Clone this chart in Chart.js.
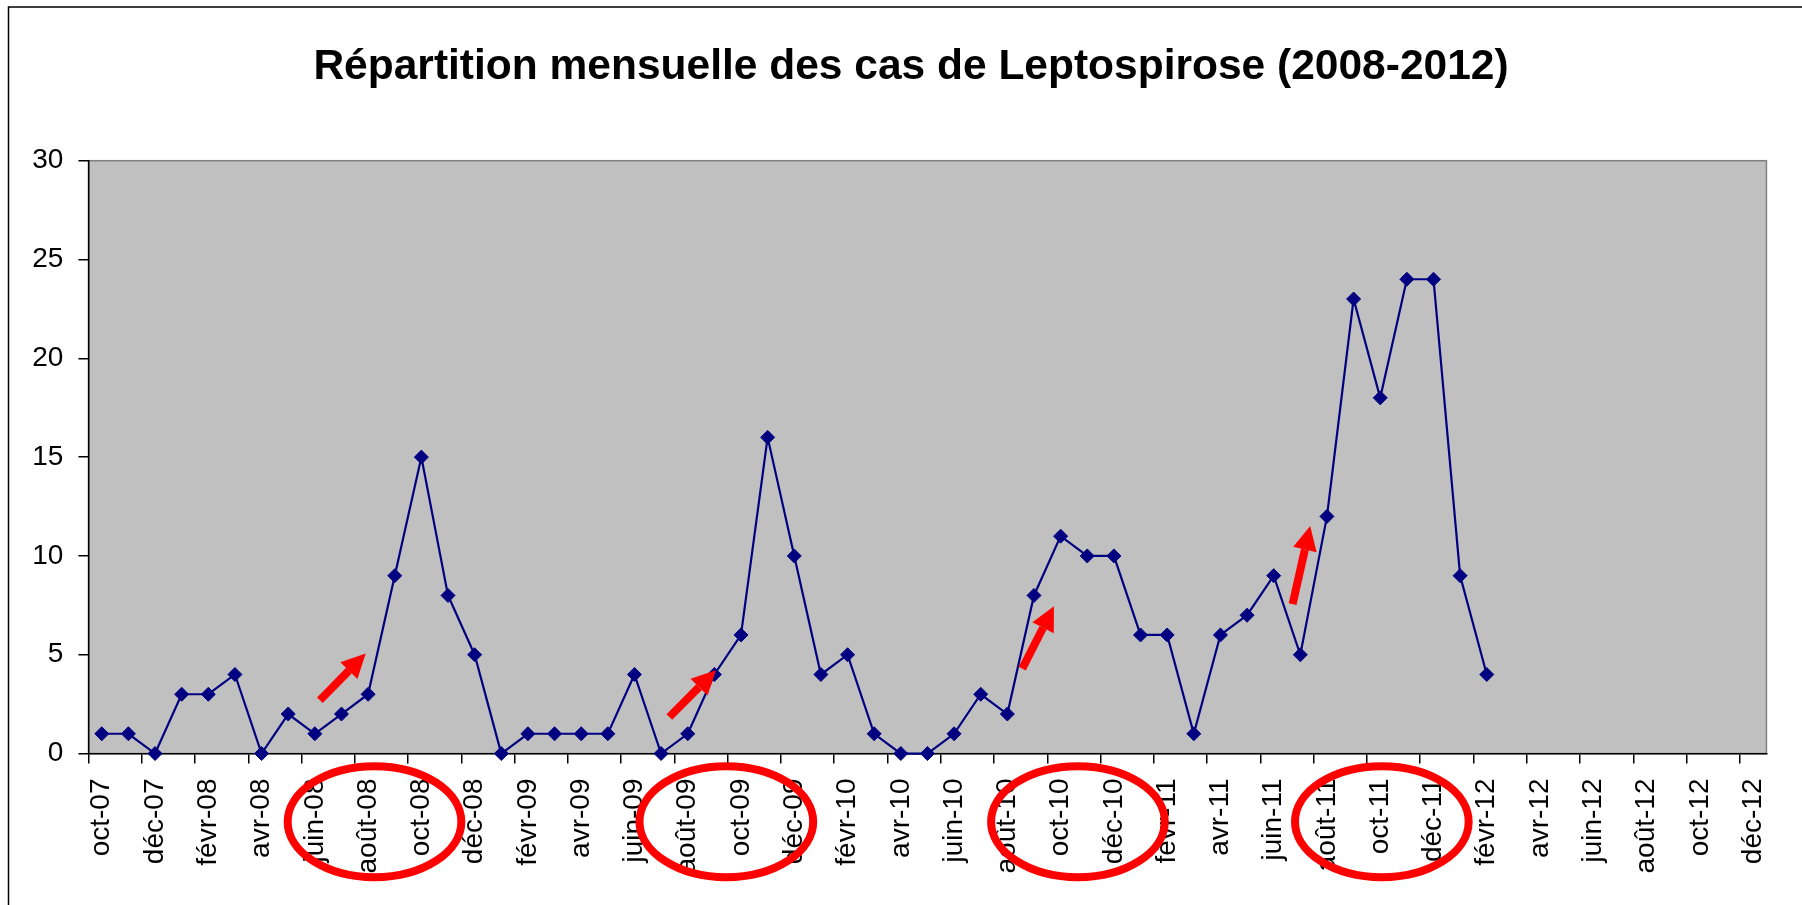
<!DOCTYPE html>
<html>
<head>
<meta charset="utf-8">
<script src="https://cdn.jsdelivr.net/npm/chart.js@4.4.1/dist/chart.umd.min.js"></script>
<style>
  html, body { margin: 0; padding: 0; background: #fff; }
  #wrap { width: 1802px; height: 905px; position: relative; }
</style>
</head>
<body>
<div id="wrap"><canvas id="lepto"></canvas></div>
<script>
// months on the x axis (oct-07 .. déc-12)
const months = [
  "oct-07", "nov-07", "déc-07",
  "janv-08", "févr-08", "mars-08", "avr-08", "mai-08", "juin-08", "juil-08", "août-08", "sept-08", "oct-08", "nov-08", "déc-08",
  "janv-09", "févr-09", "mars-09", "avr-09", "mai-09", "juin-09", "juil-09", "août-09", "sept-09", "oct-09", "nov-09", "déc-09",
  "janv-10", "févr-10", "mars-10", "avr-10", "mai-10", "juin-10", "juil-10", "août-10", "sept-10", "oct-10", "nov-10", "déc-10",
  "janv-11", "févr-11", "mars-11", "avr-11", "mai-11", "juin-11", "juil-11", "août-11", "sept-11", "oct-11", "nov-11", "déc-11",
  "janv-12", "févr-12", "mars-12", "avr-12", "mai-12", "juin-12", "juil-12", "août-12", "sept-12", "oct-12", "nov-12", "déc-12"
];

// monthly cases, nothing recorded after févr-12
const cases = [
  1, 1, 0,
  3, 3, 4, 0, 2, 1, 2, 3, 9, 15, 8, 5,
  0, 1, 1, 1, 1, 4, 0, 1, 4, 6, 16, 10,
  4, 5, 1, 0, 0, 1, 3, 2, 8, 11, 10, 10,
  6, 6, 1, 6, 7, 9, 5, 12, 23, 18, 24, 24,
  9, 4, null, null, null, null, null, null, null, null, null, null
];

const yMax = 30;
const yStep = 5;

const title = "Répartition mensuelle des cas de Leptospirose (2008-2012)";

// red marks drawn on top: circled periods [month index, value] and arrows [from idx, from val, to idx, to val]
const circles = [[10.24, -3.45], [23.45, -3.45], [36.65, -3.45], [48.06, -3.45]];
const arrows = [
  [8.19, 2.70, 9.91, 5.06],
  [21.31, 1.85, 23.06, 4.22],
  [34.56, 4.30, 35.75, 7.45],
  [44.71, 7.56, 45.37, 11.51]
];

const FONT = "'Liberation Sans', Arial, sans-serif";

// white page, outer frame, title and the grey plot area
const backdrop = {
  id: "backdrop",
  beforeDraw(chart) {
    const { ctx, chartArea: a } = chart;
    ctx.save();
    ctx.fillStyle = "#fff";
    ctx.fillRect(0, 0, chart.width, chart.height);
    ctx.strokeStyle = "#000";
    ctx.lineWidth = 1.5;
    ctx.strokeRect(8.5, 7, chart.width + 20, chart.height + 20);
    // title centred on the frame (which runs past the right edge)
    ctx.fillStyle = "#000";
    ctx.font = "bold 42.5px " + FONT;
    ctx.textAlign = "center";
    ctx.textBaseline = "middle";
    ctx.fillText(title, 911, 67);
    ctx.fillStyle = "#c0c0c0";
    ctx.fillRect(a.left, a.top, a.right - a.left, a.bottom - a.top);
    ctx.strokeStyle = "#808080";
    ctx.lineWidth = 1.5;
    ctx.strokeRect(a.left, a.top, a.right - a.left, a.bottom - a.top);
    ctx.restore();
  }
};

function drawArrow(ctx, x1, y1, x2, y2) {
  const ang = Math.atan2(y2 - y1, x2 - x1);
  const head = 24, half = 12;
  const bx = x2 - head * Math.cos(ang), by = y2 - head * Math.sin(ang);
  ctx.lineWidth = 8;
  ctx.beginPath();
  ctx.moveTo(x1, y1);
  ctx.lineTo(bx, by);
  ctx.stroke();
  ctx.beginPath();
  ctx.moveTo(x2, y2);
  ctx.lineTo(bx + half * Math.sin(ang), by - half * Math.cos(ang));
  ctx.lineTo(bx - half * Math.sin(ang), by + half * Math.cos(ang));
  ctx.closePath();
  ctx.fill();
}

const redMarks = {
  id: "redMarks",
  afterDraw(chart) {
    const { ctx } = chart;
    const x = chart.scales.x, y = chart.scales.y;
    ctx.save();
    ctx.strokeStyle = "#ff0000";
    ctx.fillStyle = "#ff0000";
    circles.forEach(([i, v]) => {
      const cx = x.getPixelForValue(i), cy = y.getPixelForValue(v);
      const rx = x.getPixelForValue(i + 3.26) - cx;
      const ry = y.getPixelForValue(v - 2.81) - cy;
      ctx.lineWidth = 8;
      ctx.beginPath();
      ctx.ellipse(cx, cy, rx, ry, 0, 0, Math.PI * 2);
      ctx.stroke();
    });
    arrows.forEach(([i1, v1, i2, v2]) => {
      drawArrow(ctx, x.getPixelForValue(i1), y.getPixelForValue(v1),
                     x.getPixelForValue(i2), y.getPixelForValue(v2));
    });
    ctx.restore();
  }
};

new Chart(document.getElementById("lepto"), {
  type: "line",
  data: {
    labels: months,
    datasets: [{
      data: cases,
      borderColor: "#000080",
      borderWidth: 2.2,
      backgroundColor: "#000080",
      pointStyle: "rectRot",
      pointRadius: 7,
      pointBorderWidth: 1,
      pointBorderColor: "#000080",
      pointBackgroundColor: "#000080",
      tension: 0,
      spanGaps: false,
      clip: false
    }]
  },
  plugins: [backdrop, redMarks],
  options: {
    responsive: true,
    maintainAspectRatio: false,
    animation: false,
    layout: { padding: { left: 17.3, right: 35, top: 160.7, bottom: 16.5 } },
    plugins: {
      legend: { display: false },
      tooltip: { enabled: false },
      title: { display: false }
    },
    scales: {
      x: {
        offset: true,
        grid: {
          offset: true,
          drawOnChartArea: false,
          tickLength: 10,
          lineWidth: 1.5,
          color: c => (c.index % 2 === 0 ? "#000" : "rgba(0,0,0,0)")
        },
        border: { color: "#000", width: 1.5 },
        ticks: {
          autoSkip: false,
          minRotation: 90,
          maxRotation: 90,
          padding: 15,
          color: "#000",
          font: { family: FONT, size: 28 },
          callback: function (v, i) { return i % 2 === 0 ? this.getLabelForValue(v) : ""; }
        }
      },
      y: {
        min: 0,
        max: yMax,
        grid: { drawOnChartArea: false, tickLength: 10, lineWidth: 1.5, color: "#000" },
        border: { color: "#000", width: 1.5 },
        ticks: {
          stepSize: yStep,
          padding: 15,
          color: "#000",
          font: { family: FONT, size: 28 }
        }
      }
    }
  }
});
</script>
</body>
</html>
